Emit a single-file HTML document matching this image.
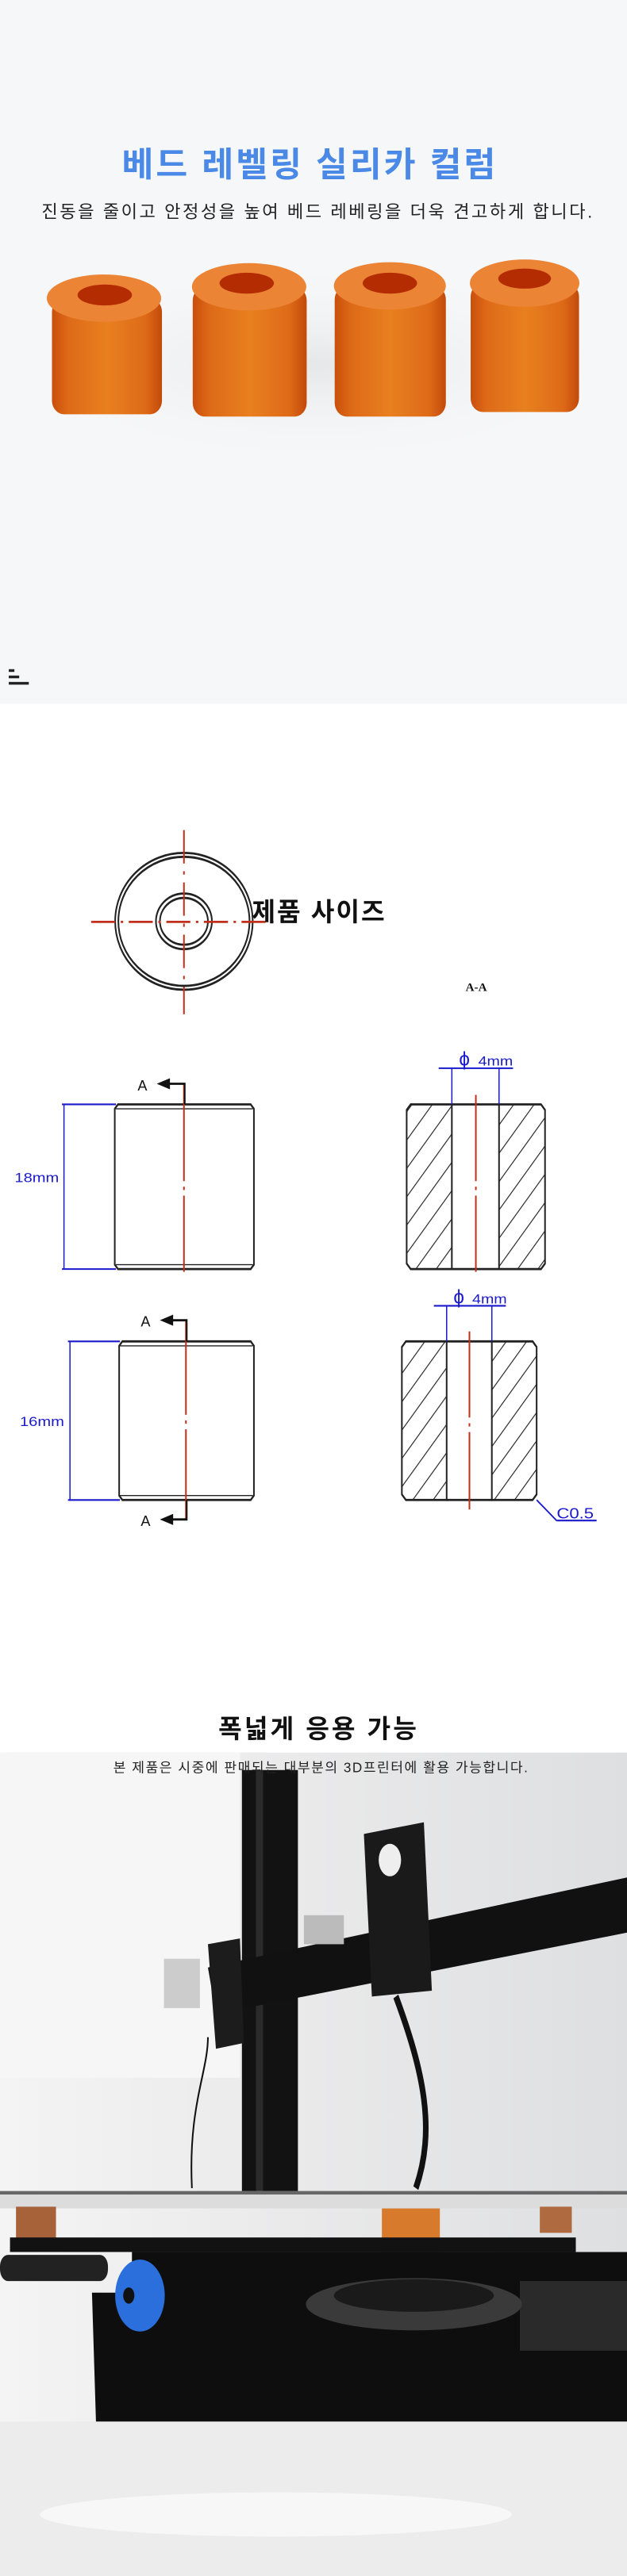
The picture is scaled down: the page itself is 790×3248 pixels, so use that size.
<!DOCTYPE html>
<html><head><meta charset="utf-8"><style>
html,body{margin:0;padding:0;background:#fff}
body{width:790px;height:3248px;position:relative;overflow:hidden;font-family:"Liberation Sans","Noto Sans CJK KR",sans-serif}
svg{position:absolute;left:0;display:block}
</style></head><body>

<!-- Section 1 -->
<svg style="top:0" width="790" height="900" viewBox="0 0 1568 1568" preserveAspectRatio="none">
<defs>
<linearGradient id="body" x1="0" x2="1" y1="0" y2="0">
<stop offset="0" stop-color="#c94f0c"/><stop offset="0.15" stop-color="#de6a18"/><stop offset="0.5" stop-color="#e8801f"/><stop offset="0.85" stop-color="#de6a18"/><stop offset="1" stop-color="#c24a0a"/></linearGradient>
<radialGradient id="sh" cx="0.5" cy="0.5" r="0.5"><stop offset="0" stop-color="#e6e7e9"/><stop offset="1" stop-color="#f5f6f8" stop-opacity="0"/></radialGradient>
</defs>
<rect width="1568" height="1546" fill="#f6f7f9"/>
<ellipse cx="790" cy="800" rx="760" ry="220" fill="url(#sh)"/>
<text transform="translate(775,388) scale(1,0.879)" text-anchor="middle" font-size="86" font-weight="bold" fill="#4a8ae6" font-family="Liberation Sans,Noto Sans CJK KR,sans-serif" letter-spacing="6">베드 레벨링 실리카 컬럼</text>
<text transform="translate(795,478) scale(1,0.879)" text-anchor="middle" font-size="44" fill="#222" font-family="Liberation Sans,Noto Sans CJK KR,sans-serif" letter-spacing="5">진동을 줄이고 안정성을 높여 베드 레베링을 더욱 견고하게 합니다.</text>
<g>
<rect x="130" y="655" width="275" height="255" rx="30" fill="url(#body)"/>
<ellipse cx="260" cy="655" rx="143" ry="52" fill="#ec8436"/>
<ellipse cx="262" cy="648" rx="68" ry="23" fill="#b42d02"/>
</g>
<g>
<rect x="482" y="630" width="285" height="285" rx="30" fill="url(#body)"/>
<ellipse cx="623" cy="630" rx="143" ry="52" fill="#ec8436"/>
<ellipse cx="617" cy="622" rx="68" ry="23" fill="#b42d02"/>
</g>
<g>
<rect x="837" y="628" width="278" height="287" rx="30" fill="url(#body)"/>
<ellipse cx="975" cy="628" rx="140" ry="52" fill="#ec8436"/>
<ellipse cx="975" cy="622" rx="68" ry="23" fill="#b42d02"/>
</g>
<g>
<rect x="1177" y="622" width="271" height="283" rx="30" fill="url(#body)"/>
<ellipse cx="1312" cy="622" rx="137" ry="52" fill="#ec8436"/>
<ellipse cx="1312" cy="612" rx="66" ry="22" fill="#b42d02"/>
</g>
<rect x="22" y="1470" width="14" height="6" fill="#222"/>
<rect x="22" y="1484" width="26" height="6" fill="#222"/>
<rect x="22" y="1498" width="50" height="6" fill="#222"/>
</svg>

<!-- Section 2 -->
<svg style="top:900" width="790" height="1100" viewBox="0 0 1568 1568" preserveAspectRatio="none">
<defs>
<pattern id="hatch" width="36" height="36" patternUnits="userSpaceOnUse" patternTransform="rotate(45)">
<line x1="0" y1="0" x2="0" y2="36" stroke="#222" stroke-width="4"/></pattern>
</defs>
<g fill="none" stroke="#222" stroke-width="4">
<ellipse cx="460" cy="373" rx="172" ry="123"/>
<ellipse cx="460" cy="373" rx="164" ry="116"/>
<ellipse cx="460" cy="373" rx="70" ry="50"/>
<ellipse cx="460" cy="373" rx="60" ry="42"/>
</g>
<g stroke="#c0301a" stroke-width="4" stroke-dasharray="60,14,6,14">
<line x1="460" y1="209" x2="460" y2="540"/>
<line x1="228" y1="374" x2="690" y2="374"/>
</g>
<text transform="translate(798,372) scale(1,0.718)" text-anchor="middle" font-size="64" font-weight="bold" fill="#111" font-family="Liberation Sans,Noto Sans CJK KR,sans-serif" letter-spacing="4">제품 사이즈</text>
<text transform="translate(1191,498) scale(1,0.718)" text-anchor="middle" font-size="30" font-weight="bold" fill="#111" font-family="Liberation Serif,serif">A-A</text>

<!-- top left -->
<path d="M295,702 H627 L635,710 V990 L627,998 H295 L287,990 V710 Z" fill="none" stroke="#222" stroke-width="4"/>
<line x1="290" y1="710" x2="632" y2="710" stroke="#222" stroke-width="2"/>
<line x1="290" y1="990" x2="632" y2="990" stroke="#222" stroke-width="2"/>
<line x1="460" y1="665" x2="460" y2="1003" stroke="#c0301a" stroke-width="4" stroke-dasharray="175,10,6,10"/>
<path d="M462,702 V665 H420" fill="none" stroke="#111" stroke-width="4"/>
<path d="M392,665 L425,655 L425,675 Z" fill="#111"/>
<text transform="translate(356,677) scale(1,0.718)" text-anchor="middle" font-size="36" fill="#111">A</text>
<g stroke="#1a1acc" stroke-width="3">
<line x1="160" y1="702" x2="160" y2="998"/>
<line x1="155" y1="702" x2="290" y2="702"/>
<line x1="155" y1="998" x2="290" y2="998"/>
</g>
<text transform="translate(92,842) scale(1,0.6)" text-anchor="middle" font-size="40" fill="#1a1acc">18mm</text>

<!-- top right -->
<rect x="1130" y="702" width="118" height="296" fill="#fff"/>
<path d="M1027,702 H1130 V998 H1027 L1017,988 V712 Z" fill="url(#hatch)" stroke="#222" stroke-width="4"/>
<path d="M1248,702 H1353 L1363,712 V988 L1353,998 H1248 Z" fill="url(#hatch)" stroke="#222" stroke-width="4"/>
<line x1="1130" y1="702" x2="1248" y2="702" stroke="#222" stroke-width="4"/>
<line x1="1130" y1="998" x2="1248" y2="998" stroke="#222" stroke-width="4"/>
<line x1="1190" y1="685" x2="1190" y2="1003" stroke="#c0301a" stroke-width="4" stroke-dasharray="155,10,6,10"/>
<g stroke="#1a1acc" stroke-width="3">
<line x1="1097" y1="637" x2="1283" y2="637"/>
<line x1="1130" y1="637" x2="1130" y2="702"/>
<line x1="1248" y1="637" x2="1248" y2="702"/>
</g>
<text transform="translate(1148,632) scale(1,0.75)" font-size="48" fill="#1a1acc">ϕ</text>
<text transform="translate(1196,632) scale(1,0.6)" font-size="39" fill="#1a1acc">4mm</text>

<!-- bottom left -->
<path d="M306,1128 H627 L635,1136 V1405 L627,1413 H306 L298,1405 V1136 Z" fill="none" stroke="#222" stroke-width="4"/>
<line x1="300" y1="1136" x2="632" y2="1136" stroke="#222" stroke-width="2"/>
<line x1="300" y1="1405" x2="632" y2="1405" stroke="#222" stroke-width="2"/>
<line x1="465" y1="1090" x2="465" y2="1448" stroke="#c0301a" stroke-width="4" stroke-dasharray="170,10,6,10"/>
<path d="M467,1128 V1090 H430" fill="none" stroke="#111" stroke-width="4"/>
<path d="M400,1090 L433,1080 L433,1100 Z" fill="#111"/>
<text transform="translate(364,1101) scale(1,0.718)" text-anchor="middle" font-size="36" fill="#111">A</text>
<path d="M467,1413 V1448 H430" fill="none" stroke="#111" stroke-width="4"/>
<path d="M400,1448 L433,1438 L433,1458 Z" fill="#111"/>
<text transform="translate(364,1460) scale(1,0.718)" text-anchor="middle" font-size="36" fill="#111">A</text>
<g stroke="#1a1acc" stroke-width="3">
<line x1="175" y1="1128" x2="175" y2="1413"/>
<line x1="170" y1="1128" x2="300" y2="1128"/>
<line x1="170" y1="1413" x2="300" y2="1413"/>
</g>
<text transform="translate(105,1280) scale(1,0.6)" text-anchor="middle" font-size="40" fill="#1a1acc">16mm</text>

<!-- bottom right -->
<rect x="1117" y="1128" width="113" height="285" fill="#fff"/>
<path d="M1015,1128 H1117 V1413 H1015 L1005,1403 V1138 Z" fill="url(#hatch)" stroke="#222" stroke-width="4"/>
<path d="M1230,1128 H1332 L1342,1138 V1403 L1332,1413 H1230 Z" fill="url(#hatch)" stroke="#222" stroke-width="4"/>
<line x1="1117" y1="1128" x2="1230" y2="1128" stroke="#222" stroke-width="4"/>
<line x1="1117" y1="1413" x2="1230" y2="1413" stroke="#222" stroke-width="4"/>
<line x1="1174" y1="1110" x2="1174" y2="1430" stroke="#c0301a" stroke-width="4" stroke-dasharray="155,10,6,10"/>
<g stroke="#1a1acc" stroke-width="3">
<line x1="1085" y1="1064" x2="1265" y2="1064"/>
<line x1="1117" y1="1064" x2="1117" y2="1128"/>
<line x1="1230" y1="1064" x2="1230" y2="1128"/>
<line x1="1342" y1="1413" x2="1392" y2="1450"/>
<line x1="1392" y1="1450" x2="1492" y2="1450"/>
</g>
<text transform="translate(1134,1060) scale(1,0.75)" font-size="48" fill="#1a1acc">ϕ</text>
<text transform="translate(1181,1060) scale(1,0.6)" font-size="39" fill="#1a1acc">4mm</text>
<text transform="translate(1392,1446) scale(1,0.6)" font-size="44" fill="#1a1acc">C0.5</text>
</svg>

<!-- Section 3 -->
<svg style="top:2100" width="790" height="1148" viewBox="0 0 1568 1568" preserveAspectRatio="none">
<defs>
<linearGradient id="bg3" x1="0" x2="1" y1="0" y2="0"><stop offset="0" stop-color="#f4f4f4"/><stop offset="0.5" stop-color="#e9e9ea"/><stop offset="1" stop-color="#dedfe1"/></linearGradient>
</defs>
<rect width="1568" height="1568" fill="#ececec"/>
<rect y="0" width="1568" height="150" fill="#fff"/>
<rect y="150" width="1568" height="1152" fill="url(#bg3)"/>
<rect y="150" width="600" height="560" fill="#f6f6f6"/>
<ellipse cx="690" cy="1462" rx="590" ry="38" fill="#f7f7f7"/>
<rect x="605" y="180" width="140" height="740" fill="#121212"/>
<rect x="640" y="180" width="18" height="740" fill="#2a2a2a"/>
<polygon points="520,520 1568,365 1568,460 540,600" fill="#111"/>
<polygon points="910,290 1060,270 1080,560 930,570" fill="#1a1a1a"/>
<circle cx="975" cy="335" r="28" fill="#eee"/>
<polygon points="520,480 600,470 610,650 540,660" fill="#1c1c1c"/>
<rect x="410" y="505" width="90" height="85" fill="#ccc"/>
<rect x="760" y="430" width="100" height="50" fill="#bbb"/>
<path d="M990,570 C1060,700 1090,800 1040,900" stroke="#111" stroke-width="14" fill="none"/>
<path d="M520,640 C520,700 470,760 480,900" stroke="#111" stroke-width="4" fill="none"/>
<rect x="0" y="905" width="1568" height="30" fill="#dcdcdc"/>
<rect x="0" y="905" width="1568" height="6" fill="#666"/>
<rect x="40" y="932" width="100" height="60" fill="#a8623a"/>
<rect x="955" y="935" width="145" height="90" fill="#d87a2c"/>
<rect x="1350" y="932" width="80" height="45" fill="#b06a40"/>
<rect x="25" y="985" width="1415" height="25" fill="#121212"/>
<rect x="0" y="1015" width="270" height="45" rx="20" fill="#222"/>
<polygon points="330,1010 1568,1010 1568,1302 240,1302 230,1080 330,1080" fill="#0e0e0e"/>
<rect x="1300" y="1060" width="268" height="120" fill="#2a2a2a"/>
<ellipse cx="1035" cy="1100" rx="270" ry="45" fill="#3a3a3a"/>
<ellipse cx="1035" cy="1085" rx="200" ry="28" fill="#1a1a1a"/>
<circle cx="350" cy="1085" r="62" fill="#2a6fdc"/>
<circle cx="322" cy="1085" r="14" fill="#111"/>
<text transform="translate(797,124) scale(1,0.688)" text-anchor="middle" font-size="64" font-weight="bold" fill="#111" font-family="Liberation Sans,Noto Sans CJK KR,sans-serif" letter-spacing="6">폭넓게 응용 가능</text>
<text transform="translate(803,184) scale(1,0.688)" text-anchor="middle" font-size="34" fill="#222" font-family="Liberation Sans,Noto Sans CJK KR,sans-serif" letter-spacing="3">본 제품은 시중에 판매되는 대부분의 3D프린터에 활용 가능합니다.</text>
</svg>
</body></html>
